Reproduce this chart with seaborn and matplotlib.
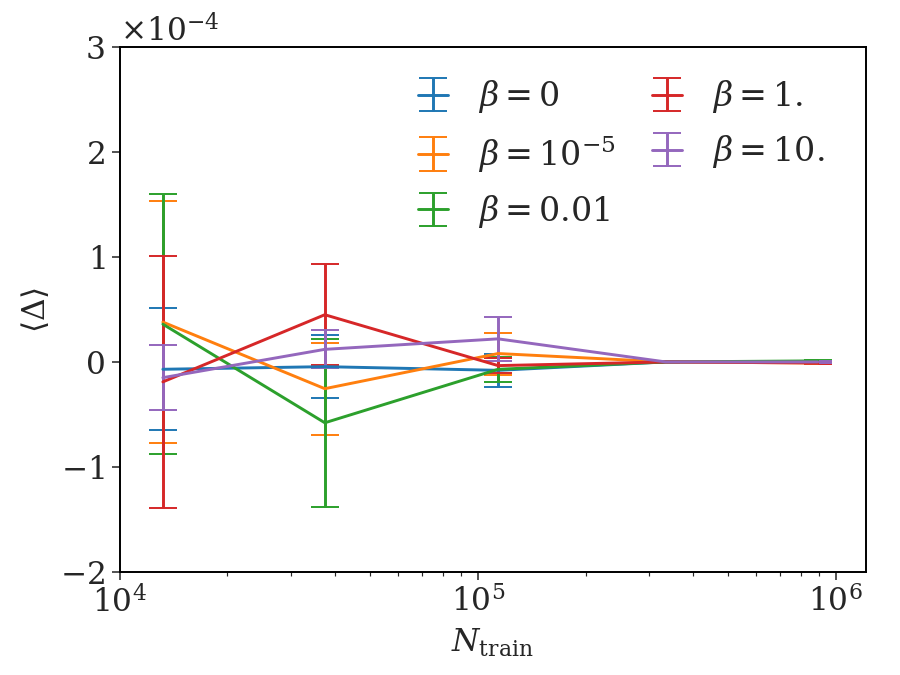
import numpy as np
import pandas as pd
import matplotlib
matplotlib.use("Agg")
import matplotlib.pyplot as plt
import seaborn as sns

# training set sizes
n_train = [1.32e4, 3.74e4, 1.14e5, 3.35e5, 8.9e5]

labels = [r"$\beta=0$", r"$\beta=10^{-5}$", r"$\beta=0.01$", r"$\beta=1.$", r"$\beta=10.$"]

# mean <Delta>, units of 1e-4
mean_b0 = [-0.07, -0.045, -0.08, 0.0, 0.0]
mean_b1e5 = [0.38, -0.255, 0.08, 0.0, -0.01]
mean_b001 = [0.36, -0.58, -0.07, 0.0, 0.01]
mean_b1 = [-0.19, 0.45, -0.035, 0.0, -0.01]
mean_b10 = [-0.15, 0.12, 0.22, 0.0, 0.0]

# error bars, units of 1e-4
err_b0 = [0.58, 0.30, 0.16, 0.01, 0.01]
err_b1e5 = [1.15, 0.44, 0.20, 0.01, 0.01]
err_b001 = [1.24, 0.80, 0.12, 0.01, 0.01]
err_b1 = [1.20, 0.48, 0.07, 0.01, 0.01]
err_b10 = [0.31, 0.18, 0.21, 0.01, 0.01]

means = [mean_b0, mean_b1e5, mean_b001, mean_b1, mean_b10]
errs = [err_b0, err_b1e5, err_b001, err_b1, err_b10]

rows = []
for lab, m, e in zip(labels, means, errs):
    for x, mv, ev in zip(n_train, m, e):
        rows.append({"beta": lab, "N": x, "delta": mv * 1e-4, "err": ev * 1e-4})
df = pd.DataFrame(rows)

sns.set_style("white")
plt.rcParams["font.family"] = ["DejaVu Serif"]
plt.rcParams["mathtext.fontset"] = "dejavuserif"
plt.rcParams["axes.formatter.use_mathtext"] = True
plt.rcParams["xtick.bottom"] = True
plt.rcParams["ytick.left"] = True

palette = sns.color_palette("tab10", 5)

fig, ax = plt.subplots(figsize=(6.4, 4.8), dpi=140.625)
fig.subplots_adjust(left=0.133, right=0.962, top=0.930, bottom=0.153)

for (lab, grp), col in zip(df.groupby("beta", sort=False), palette):
    ax.errorbar(grp["N"], grp["delta"], yerr=grp["err"], color=col,
                capsize=7, lw=1.5, label=lab)

ax.set_xscale("log")
ax.set_xlim(1e4, 1.213e6)
ax.set_ylim(-2e-4, 3e-4)
ax.set_yticks(np.arange(-2, 4) * 1e-4)
ax.ticklabel_format(axis="y", style="sci", scilimits=(0, 0), useMathText=True)

for s in ax.spines.values():
    s.set_color("black")
    s.set_linewidth(1.0)

ax.tick_params(axis="both", which="major", labelsize=16, length=4)
ax.yaxis.get_offset_text().set_fontsize(16)
ax.set_xlabel(r"$N_\mathrm{train}$", fontsize=16)
ax.set_ylabel(r"$\langle \Delta \rangle$", fontsize=16)

ax.legend(ncol=2, frameon=False, fontsize=17, loc="upper right",
          bbox_to_anchor=(0.985, 0.998),
          handlelength=0.9, handletextpad=0.9, columnspacing=1.1,
          labelspacing=0.55)

fig.savefig("out.png", dpi=140.625)
